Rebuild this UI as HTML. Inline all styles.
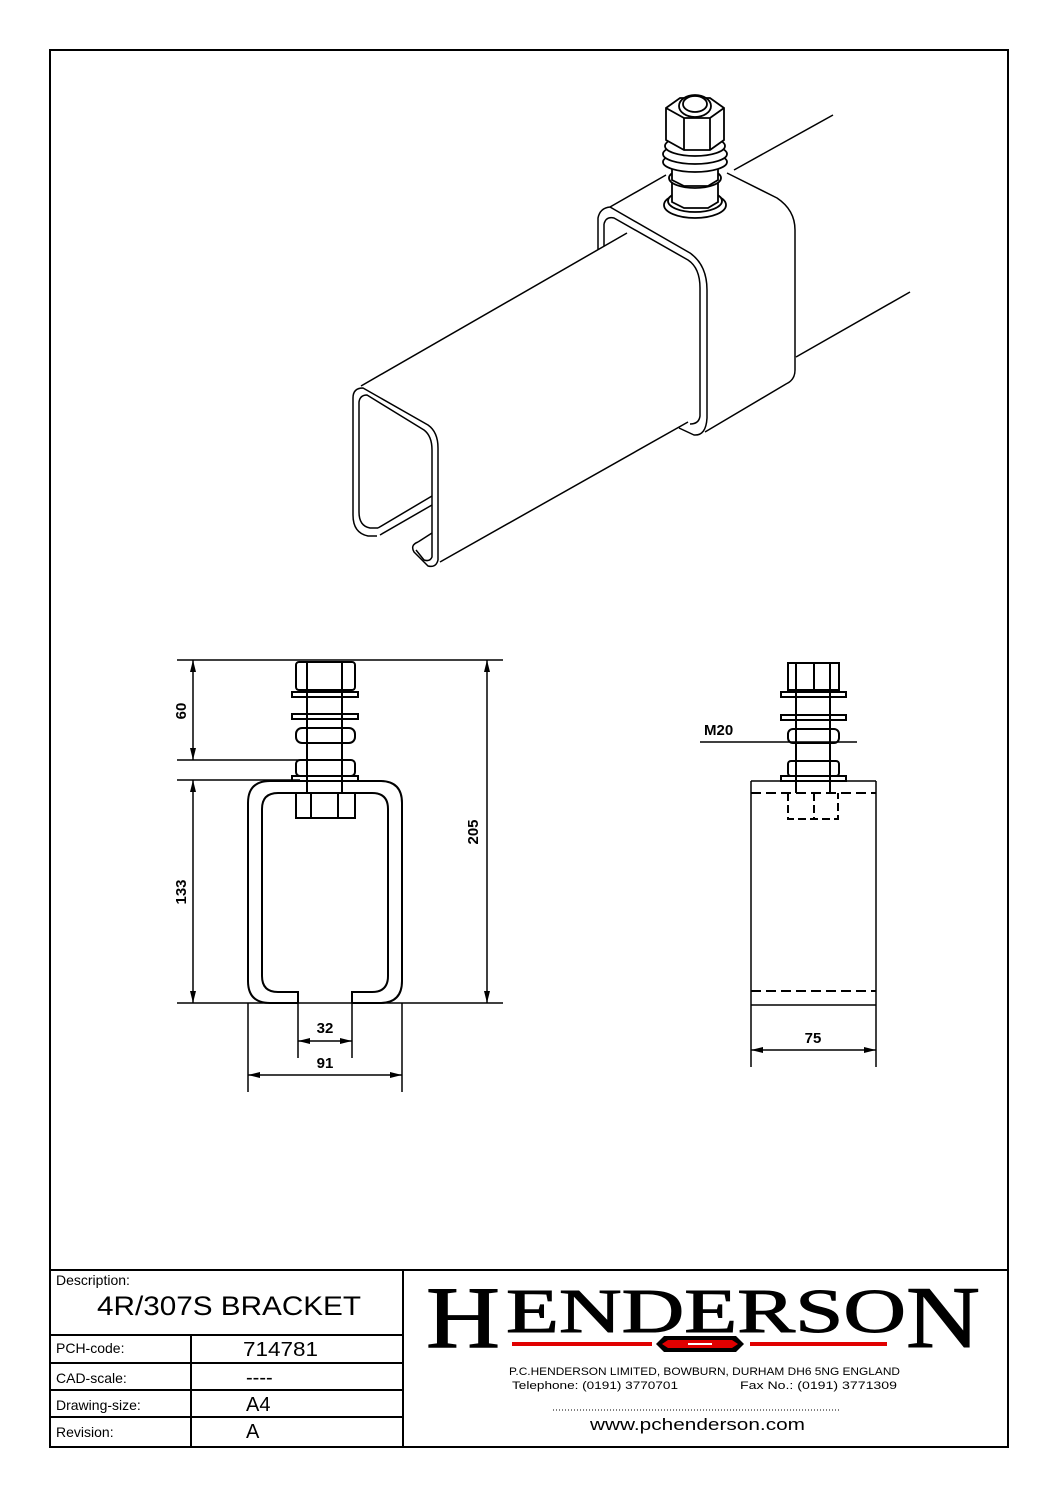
<!DOCTYPE html>
<html><head><meta charset="utf-8"><style>
html,body{margin:0;padding:0;background:#fff;}
svg{display:block;}
</style></head><body>
<svg width="1058" height="1497" viewBox="0 0 1058 1497" xmlns="http://www.w3.org/2000/svg" font-family="Liberation Sans, sans-serif">
<g fill="none" stroke="#000" stroke-width="2">
<rect x="50" y="50" width="958" height="1397"/>
<line x1="50" y1="1270" x2="1008" y2="1270"/>
<line x1="403" y1="1270" x2="403" y2="1447"/>
<line x1="50" y1="1335" x2="403" y2="1335"/>
<line x1="50" y1="1363" x2="403" y2="1363"/>
<line x1="50" y1="1390" x2="403" y2="1390"/>
<line x1="50" y1="1417" x2="403" y2="1417"/>
<line x1="191" y1="1335" x2="191" y2="1447"/>
</g>

<!-- ISOMETRIC -->
<g fill="none" stroke="#000" stroke-width="1.5" stroke-linejoin="round">
<line x1="734" y1="170" x2="833" y2="115"/>
<line x1="796" y1="357" x2="910" y2="292"/>
<line x1="361" y1="386" x2="627" y2="233"/>
<line x1="440" y1="562" x2="688" y2="422"/>
<path d="M377,536 L368,536 Q353,533 353,515 L353,398 Q353,388 363,388 L428,425 Q438,432 438,448 L438,560 Q436,568 428,566 L414,552 Q410,545 418,542"/>
<path d="M378,528 L370,528 Q359,526 359,512 L359,402 Q360,395 367,395 L424,430 Q432,436 432,450 L432,557 Q430,562 424,560 L416,550"/>
<line x1="378" y1="528" x2="432" y2="496"/>
<line x1="380" y1="535" x2="432" y2="505"/>
<line x1="418" y1="542" x2="432" y2="533"/>
<path d="M598,250 L598,218 Q600,208 610,207 L666,175"/>
<path d="M727,173 L777,198 Q795,210 795,230 L795,370 Q795,380 786,384 L705,432"/>
<path d="M610,207 L690,253 Q707,265 707,290 L707,418 Q706,436 694,435 L679,428"/>
<path d="M604,224 Q606,216 614,218 L688,260 Q700,268 700,288 L700,416 Q699,424 690,424"/>
<line x1="604" y1="224" x2="604" y2="246"/>
</g>
<g fill="#fff" stroke="#000" stroke-width="1.8">
<ellipse cx="695" cy="205" rx="31" ry="13"/>
<ellipse cx="695" cy="201" rx="27" ry="11"/>
<path d="M672,180 L672,202 L684,208 L708,208 L718,202 L718,180 Z"/>
<ellipse cx="695" cy="178" rx="26" ry="10"/>
<path d="M672,167 L672,180 L684,186 L708,186 L718,180 L718,167 Z"/>
<ellipse cx="695" cy="162" rx="32" ry="10"/>
<ellipse cx="695" cy="154" rx="32" ry="10"/>
<ellipse cx="695" cy="146" rx="30" ry="10"/>
<path d="M666,108 L666,140 L684,150 L710,150 L724,140 L724,108 L710,98 L680,98 Z"/>
<line x1="684" y1="118" x2="684" y2="150"/>
<line x1="710" y1="118" x2="710" y2="150"/>
<path d="M666,108 L684,118 L710,118 L724,108"/>
<ellipse cx="695" cy="106" rx="16" ry="11"/>
<ellipse cx="695" cy="104" rx="12" ry="8"/>
</g>

<!-- FRONT VIEW -->
<g fill="none" stroke="#000" stroke-width="1.5">
<line x1="177" y1="660" x2="503" y2="660"/>
<line x1="177" y1="760" x2="300" y2="760"/>
<line x1="177" y1="780" x2="300" y2="780"/>
<line x1="177" y1="1003" x2="503" y2="1003"/>
<line x1="193" y1="660" x2="193" y2="760"/>
<line x1="193" y1="780" x2="193" y2="1003"/>
<line x1="487" y1="660" x2="487" y2="1003"/>
<path stroke-width="2" d="M298,1003 L270,1003 Q248,1003 248,981 L248,803 Q248,781 270,781 L380,781 Q402,781 402,803 L402,981 Q402,1003 380,1003 L352,1003"/>
<path stroke-width="2" d="M298,1003 L298,992 L278,992 Q262,992 262,976 L262,809 Q262,793 278,793 L372,793 Q388,793 388,809 L388,976 Q388,992 372,992 L352,992 L352,1003"/>
<line x1="248" y1="1003" x2="248" y2="1092"/>
<line x1="402" y1="1003" x2="402" y2="1092"/>
<line x1="298" y1="1003" x2="298" y2="1058"/>
<line x1="352" y1="1003" x2="352" y2="1058"/>
<line x1="298" y1="1041" x2="352" y2="1041"/>
<line x1="248" y1="1075" x2="402" y2="1075"/>
<g stroke-width="2">
<rect x="296" y="662" width="59" height="28" rx="3"/>
<rect x="292" y="692" width="66" height="5"/>
<rect x="292" y="714" width="66" height="5"/>
<rect x="296" y="728" width="59" height="15" rx="6"/>
<rect x="296" y="760" width="59" height="16" rx="4"/>
<rect x="292" y="776" width="66" height="5"/>
<rect x="296" y="793" width="59" height="25"/>
<line x1="307" y1="663" x2="307" y2="793"/>
<line x1="342" y1="663" x2="342" y2="793"/>
<line x1="311" y1="793" x2="311" y2="818"/>
<line x1="338" y1="793" x2="338" y2="818"/>
</g>
</g>
<g fill="#000">
<polygon points="193,660 190,672 196,672"/><polygon points="193,760 190,748 196,748"/>
<polygon points="193,780 190,792 196,792"/><polygon points="193,1003 190,991 196,991"/>
<polygon points="487,660 484,672 490,672"/><polygon points="487,1003 484,991 490,991"/>
<polygon points="298,1041 310,1038 310,1044"/><polygon points="352,1041 340,1038 340,1044"/>
<polygon points="248,1075 260,1072 260,1078"/><polygon points="402,1075 390,1072 390,1078"/>
<polygon points="751,1050 763,1047 763,1053"/><polygon points="876,1050 864,1047 864,1053"/>
</g>
<g font-size="15" font-weight="bold" fill="#000">
<text x="186" y="711" text-anchor="middle" transform="rotate(-90 186 711)">60</text>
<text x="186" y="892" text-anchor="middle" transform="rotate(-90 186 892)">133</text>
<text x="478" y="832" text-anchor="middle" transform="rotate(-90 478 832)">205</text>
<text x="325" y="1033" text-anchor="middle">32</text>
<text x="325" y="1068" text-anchor="middle">91</text>
<text x="813" y="1043" text-anchor="middle">75</text>
<text x="704" y="735">M20</text>
</g>

<!-- SIDE VIEW -->
<g fill="none" stroke="#000" stroke-width="1.5">
<line x1="751" y1="781" x2="876" y2="781"/>
<line x1="751" y1="781" x2="751" y2="1067"/>
<line x1="876" y1="781" x2="876" y2="1067"/>
<line x1="751" y1="1005" x2="876" y2="1005"/>
<line x1="751" y1="1050" x2="876" y2="1050"/>
<line x1="700" y1="742" x2="857" y2="742"/>
<g stroke-width="2">
<line x1="751" y1="793" x2="876" y2="793" stroke-dasharray="10,5"/>
<line x1="751" y1="991" x2="876" y2="991" stroke-dasharray="10,5"/>
<rect x="788" y="663" width="51" height="27"/>
<line x1="814" y1="663" x2="814" y2="690"/>
<rect x="781" y="692" width="65" height="5"/>
<rect x="781" y="715" width="65" height="5"/>
<rect x="788" y="729" width="51" height="14" rx="5"/>
<rect x="788" y="761" width="51" height="15" rx="3"/>
<rect x="781" y="776" width="65" height="5"/>
<path d="M788,793 L788,819 L838,819 L838,793" stroke-dasharray="8,4"/>
<line x1="814" y1="793" x2="814" y2="819" stroke-dasharray="8,4"/>
<line x1="796" y1="663" x2="796" y2="793"/>
<line x1="830" y1="663" x2="830" y2="793"/>
</g>
</g>

<!-- TITLE BLOCK TEXT -->
<g fill="#000" font-size="14">
<text x="56" y="1285">Description:</text>
<text x="56" y="1353">PCH-code:</text>
<text x="56" y="1383">CAD-scale:</text>
<text x="56" y="1410">Drawing-size:</text>
<text x="56" y="1437">Revision:</text>
</g>
<text x="97" y="1315" font-size="27" textLength="264" lengthAdjust="spacingAndGlyphs">4R/307S BRACKET</text>
<g font-size="20">
<text x="243" y="1356" textLength="75" lengthAdjust="spacingAndGlyphs">714781</text>
<text x="246" y="1384">----</text>
<text x="246" y="1411">A4</text>
<text x="246" y="1438">A</text>
</g>
<g font-family="Liberation Serif, serif" fill="#000" stroke="#000" stroke-width="1">
<text x="426" y="1347" font-size="88" textLength="74" lengthAdjust="spacingAndGlyphs">H</text>
<text x="506" y="1332" font-size="62" textLength="400" lengthAdjust="spacingAndGlyphs">ENDERSO</text>
<text x="906" y="1347" font-size="88" textLength="74" lengthAdjust="spacingAndGlyphs">N</text>
</g>
<rect x="512" y="1342" width="140" height="4" fill="#e00000"/>
<rect x="750" y="1342" width="137" height="4" fill="#e00000"/>
<path d="M664,1336 L736,1336 L744,1344 L736,1352 L664,1352 L656,1344 Z" fill="#000"/>
<path d="M668,1340 L732,1340 L738,1344 L732,1348 L668,1348 L662,1344 Z" fill="#e00000"/>
<rect x="688" y="1343" width="24" height="2" fill="#fff"/>
<g font-size="11" fill="#000">
<text x="509" y="1375" textLength="391" lengthAdjust="spacingAndGlyphs">P.C.HENDERSON LIMITED, BOWBURN, DURHAM DH6 5NG ENGLAND</text>
<text x="512" y="1389" textLength="166" lengthAdjust="spacingAndGlyphs">Telephone: (0191) 3770701</text>
<text x="740" y="1389" textLength="157" lengthAdjust="spacingAndGlyphs">Fax No.: (0191) 3771309</text>
</g>
<line x1="553" y1="1410" x2="840" y2="1410" stroke="#000" stroke-width="1" stroke-dasharray="1,2"/>
<text x="590" y="1430" font-size="17" textLength="215" lengthAdjust="spacingAndGlyphs">www.pchenderson.com</text>
</svg>
</body></html>
